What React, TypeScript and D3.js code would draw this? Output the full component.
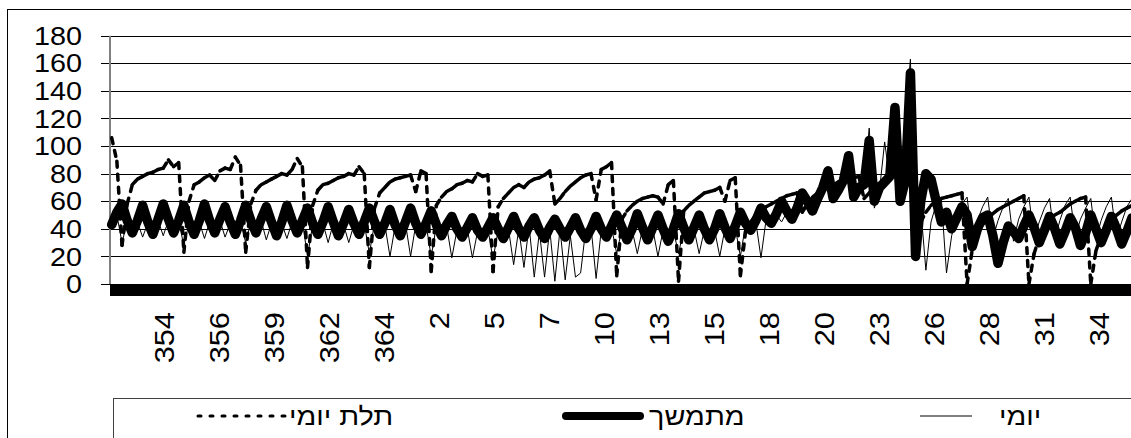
import React from "react";
import * as d3 from "d3";

// series, 6-hour samples (sample i = hour 2 + 6*i)
const seriesNames = ["יומי", "מתמשך", "תלת יומי"];

const daily = [
  42, 50,
  30, 45, 37, 45, 34, 44, 36, 46, 35, 46, 37, 45,
  28, 44, 36, 45, 33, 45, 37, 46, 34, 44, 36, 45,
  30, 45, 37, 46, 32, 44, 35, 44, 33, 45, 36, 45,
  20, 43, 36, 44, 30, 44, 35, 43, 30, 43, 36, 44,
  22, 44, 36, 43, 20, 42, 35, 44, 20, 43, 36, 43,
  20, 42, 35, 42, 19, 39, 34, 40, 19, 38, 34, 40,
  18, 39, 33, 40, 14, 40, 12, 42, 5, 38, 5, 40,
  2, 40, 3, 35, 5, 8, 40, 42, 4, 39, 33, 41,
  22, 40, 32, 39, 22, 40, 32, 40, 20, 39, 31, 39,
  22, 40, 32, 40, 22, 39, 32, 39, 20, 40, 33, 41,
  20, 43, 39, 45, 19, 47, 44, 50, 45, 52, 47, 54,
  55, 58, 52, 60, 65, 78, 60, 66, 70, 85, 62, 68,
  72, 113, 55, 68, 103, 75, 125, 62, 120, 163, 25, 55,
  10, 45, 58, 62, 8, 35, 50, 58, 63, 32, 46, 56,
  63, 33, 46, 56, 62, 31, 47, 56, 63, 33, 45, 55,
  62, 32, 46, 57, 63, 34, 47, 55, 62, 32, 46, 56,
  63, 33, 45, 56, 62,
];

const continuous = [
  43, 52,
  58, 46, 37, 46, 57, 45, 36, 47, 58, 47, 37, 46,
  57, 45, 36, 46, 58, 46, 37, 47, 56, 45, 36, 46,
  57, 46, 37, 47, 56, 45, 35, 45, 57, 46, 37, 46,
  55, 44, 36, 45, 56, 45, 35, 44, 54, 44, 36, 45,
  55, 45, 36, 44, 54, 43, 35, 45, 55, 44, 36, 44,
  53, 43, 35, 43, 49, 40, 34, 41, 48, 39, 34, 41,
  48, 40, 33, 41, 49, 40, 34, 42, 48, 39, 33, 41,
  47, 40, 34, 41, 48, 39, 33, 40, 49, 40, 34, 42,
  50, 41, 32, 40, 51, 41, 32, 41, 50, 40, 31, 40,
  51, 41, 32, 41, 50, 40, 32, 40, 51, 41, 33, 42,
  52, 44, 39, 46, 55, 48, 44, 51, 60, 53, 47, 55,
  66, 60, 53, 62, 70, 82, 62, 68, 75, 93, 63, 70,
  72, 104, 60, 70, 74, 78, 128, 60, 75, 153, 20, 60,
  80, 76, 60, 45, 52, 40, 48, 56, 50, 27, 40, 48,
  50, 35, 15, 30, 42, 38, 33, 42, 50, 41, 30, 39,
  49, 40, 29, 38, 48, 41, 28, 37, 50, 40, 30, 39,
  49, 40, 29, 38, 48,
];

const threeDay = [
  106, 89,
  28, 58, 72, 76, 78, 80, 81, 83, 84, 90, 85, 88,
  23, 60, 72, 74, 77, 79, 75, 82, 84, 83, 92, 86,
  23, 58, 68, 72, 74, 76, 78, 80, 79, 83, 91, 85,
  12, 57, 68, 72, 73, 75, 77, 78, 80, 79, 85, 80,
  12, 55, 66, 70, 74, 76, 77, 78, 79, 67, 82, 80,
  9, 57, 63, 67, 69, 72, 73, 75, 74, 80, 78, 79,
  9, 56, 62, 66, 70, 72, 70, 74, 76, 77, 79, 82,
  58, 62, 67, 71, 74, 77, 79, 80, 61, 83, 85, 88,
  6, 47, 53, 57, 60, 62, 63, 64, 63, 58, 72, 75,
  2, 53, 57, 60, 63, 66, 67, 68, 70, 60, 75, 77,
  6, 38, 45, 50, 53, 56, 58, 60, 62, 64, 65, 66,
  52, 58, 63, 66, 68, 70, 72, 74, 75, 76, 77, 78,
  62, 66, 70, 73, 75, 77, 79, 80, 81, 82, 20, 45,
  52, 57, 60, 62, 63, 64, 65, 66, 0, 25, 36, 43,
  48, 51, 54, 56, 58, 60, 62, 64, 0, 22, 34, 42,
  46, 50, 52, 55, 58, 60, 62, 63, 0, 24, 35, 44,
  47, 50, 53, 55, 57,
];

// category labels, one every 64 hours starting at hour 63
const dayLabels = ["354", "356", "359", "362", "364", "2", "5", "7", "10", "13", "15", "18", "20", "23", "26", "28", "31", "34"];
const yTicks = [0, 20, 40, 60, 80, 100, 120, 140, 160, 180];

const FIRST_HOUR = 2;
const STEP_HOURS = 6;
const FIRST_LABEL_HOUR = 63;
const LABEL_EVERY = 64;
const FONT = "'Liberation Sans', Arial, Helvetica, sans-serif";

export default function App() {
  const W = 1131, H = 438;
  const x = d3.scaleLinear().domain([0, 1190]).range([110, 1132]);
  const y = d3.scaleLinear().domain([0, 180]).range([284, 35.7]);
  const hourOf = (i: number) => FIRST_HOUR + i * STEP_HOURS;

  const line = d3.line<number>()
    .x((d, i) => x(hourOf(i)))
    .y(d => y(d));

  // Excel restarts the dash on every segment, so draw them one by one
  const dashPts = threeDay.map((v, i) => [x(hourOf(i)), y(v)] as [number, number]);
  const dashSegs = d3.pairs(dashPts);

  const [x0, x1] = x.range();
  const yFont = 25.5;
  const xFont = 28;

  return (
    <div style={{ position: "absolute", left: 0, top: 0, width: W, height: H, overflow: "hidden", background: "#fff" }}>
      <svg width={W} height={H} style={{ display: "block", fontFamily: FONT }}>
        <rect x={7.5} y={9.5} width={W + 50} height={H + 50} fill="#fff" stroke="#000" />

        {/* gridlines + y ticks */}
        {yTicks.map(t => {
          const yy = Math.round(y(t)) + 0.5;
          return (
            <g key={t}>
              <line x1={x0} x2={W} y1={yy} y2={yy} stroke="#000" shapeRendering="crispEdges" />
              <line x1={x0 - 9} x2={x0} y1={yy} y2={yy} stroke="#000" shapeRendering="crispEdges" />
              <text transform={`translate(82,${y(t)}) scale(1.13,1)`} textAnchor="end" dy="0.36em" fontSize={yFont}>{t}</text>
            </g>
          );
        })}
        <line x1={x0} x2={x0} y1={y(180)} y2={y(0)} stroke="#808080" strokeWidth={2} />

        {/* series */}
        <path d={line(daily) || ""} fill="none" stroke="#000" strokeWidth={1} />
        <path d={line(continuous) || ""} fill="none" stroke="#000" strokeWidth={9.5} strokeLinejoin="round" strokeLinecap="round" />
        {dashSegs.map(([a, b], i) => (
          <line key={i} x1={a[0]} y1={a[1]} x2={b[0]} y2={b[1]} stroke="#000" strokeWidth={3.5}
            strokeDasharray="6,7" strokeLinecap="round" />
        ))}

        {/* category axis: dense tick marks form a solid band */}
        <line x1={x0} x2={x1} y1={y(0) + 6} y2={y(0) + 6} stroke="#000" strokeWidth={12} />

        {dayLabels.map((lab, k) => (
          <text key={lab + k} transform={`translate(${x(FIRST_LABEL_HOUR + k * LABEL_EVERY)},312) rotate(-90) scale(1.1,1)`}
            textAnchor="end" dy="0.36em" fontSize={xFont}>{lab}</text>
        ))}

        {/* legend */}
        <rect x={113.5} y={398.5} width={W} height={60} fill="#fff" stroke="#404040" />
        <line x1={198} x2={285} y1={416} y2={416} stroke="#000" strokeWidth={3} strokeDasharray="3,9" strokeLinecap="round" />
        <text transform="translate(289,416) scale(1.13,1)" dy="0.36em" fontSize={yFont}>{seriesNames[2]}</text>
        <line x1={566} x2={640} y1={416} y2={416} stroke="#000" strokeWidth={8} strokeLinecap="round" />
        <text transform="translate(649,416) scale(1.13,1)" dy="0.36em" fontSize={yFont}>{seriesNames[1]}</text>
        <line x1={920} x2={972} y1={416} y2={416} stroke="#000" strokeWidth={1} />
        <text transform="translate(999,416) scale(1.13,1)" dy="0.36em" fontSize={yFont}>{seriesNames[0]}</text>
      </svg>
    </div>
  );
}
